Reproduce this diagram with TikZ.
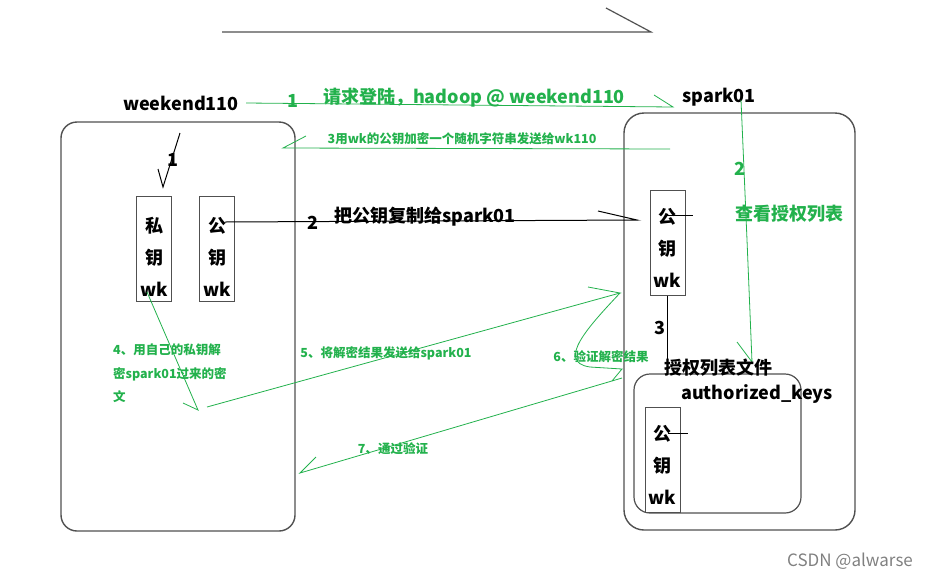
\documentclass[tikz,border=0pt]{standalone}
\usepackage{fontspec}
\setmainfont{Noto Sans CJK SC}
\usetikzlibrary{positioning}
\definecolor{paintgreen}{RGB}{34,177,76}
\definecolor{framegray}{RGB}{80,80,80}

\begin{document}
\begin{tikzpicture}[x=1pt,y=-1pt,
    big/.style={font=\fontsize{18}{20}\selectfont\bfseries,inner sep=0pt},
    note/.style={font=\fontsize{12.5}{23.5}\selectfont\bfseries,text=paintgreen,inner sep=0pt},
    host/.style={draw=framegray,line width=1.4pt,rounded corners=16pt},
    keybox/.style={draw=framegray,line width=1pt,fill=white,minimum width=35pt,minimum height=105pt,inner sep=0pt},
    keytext/.style={align=center,inner sep=0pt,font=\fontsize{18}{32}\selectfont\bfseries},
    greenline/.style={paintgreen,line width=0.8pt},
    blackline/.style={black,line width=1pt}]

    \useasboundingbox (0,0) rectangle (936,579);

    \draw[framegray,line width=1.2pt] (222,32) -- (651,32) -- (606,8);

    \draw[host] (61,122) rectangle (295,531);
    \draw[host,rounded corners=20pt] (624,113) rectangle (855,530);
    \draw[host,line width=1.2pt] (634,374) rectangle (801,513);

    \node[big] (wkname) at (181,103) {weekend110};
    \node[big] (sparkname) at (719,97) {spark01};

    \draw[greenline] (246,103) -- (673,107) -- (654,95);
    \node[big,text=paintgreen] (stepone) at (293,101) {1};
    \node[big,text=paintgreen] (login) at (474,98) {请求登陆，hadoop @ weekend110};

    \draw[greenline] (670,149) -- (283,148) -- (306,136);
    \node[note] (encrypt) at (462,139) {3用wk的公钥加密一个随机字符串发送给wk110};

    \draw[blackline] (180,133) -- (163,187) -- (158,169);
    \node[big] (genkey) at (173,160) {1};

    \node[keybox] (priv) at (154,249) {};
    \node[keytext] (privtxt) at ([yshift=-8pt]priv.center) {私\\钥\\wk};
    \node[keybox] (pubL) at (217,249) {};
    \node[keytext] (pubLtxt) at ([yshift=-8pt]pubL.center) {公\\钥\\wk};
    \node[keybox] (pubR) at (667.5,242.5) {};
    \node[keytext] (pubRtxt) at ([yshift=-5pt]pubR.center) {公\\钥\\wk};

    \coordinate (copyStart) at (225,222);
    \coordinate (copyEnd) at (637,220);
    \draw[blackline] (copyStart) -- (copyEnd) -- (598,211);
    \node[big] (steptwo) at (313,223) {2};
    \node[big] (copy) at (425,217) {把公钥复制给spark01};
    \draw[blackline] (665,215) -- (693,215);

    \draw[greenline] (741,100) -- (747,240) -- (752,362) -- (737,342);
    \node[big,text=paintgreen] (lookup) at (740,169) {2};
    \node[big,text=paintgreen] (lookuptxt) at (789,214) {查看授权列表};

    \node[big] (authfile) at (718,368) {授权列表文件};
    \node[big] (authkeys) at (757,394) {authorized\_keys};
    \draw[blackline] (pubR.south) -- (pubR.south |- authfile.north);
    \node[big] (stepthree) at (660,328) {3};

    \node[keybox] (pubK) at (662.5,460) {};
    \node[keytext] (pubKtxt) at ([yshift=-5pt]pubK.center) {公\\钥\\wk};
    \draw[blackline] (668,433) -- (688,433);

    \draw[greenline] (147,292) -- (198,410) -- (183,403);
    \node[note,anchor=north west,align=left] (decrypt) at (113,344) {4、用自己的私钥解\\密spark01过来的密\\文};

    \draw[greenline] (207,407) -- (620,293) -- (588,287);
    \node[note] (sendback) at (386,353) {5、将解密结果发送给spark01};

    \draw[greenline] (620,293) .. controls (590,325) and (555,362) .. (590,367) -- (622,369) -- (612,381);
    \node[note] (verify) at (601,357) {6、验证解密结果};

    \draw[greenline] (622,378) -- (300,473) -- (316,457);
    \node[note] (passed) at (393,449) {7、通过验证};

    \node[font=\fontsize{17}{20}\selectfont,text=black!50,inner sep=0pt] (mark) at (850,561) {CSDN @alwarse};
\end{tikzpicture}
\end{document}
